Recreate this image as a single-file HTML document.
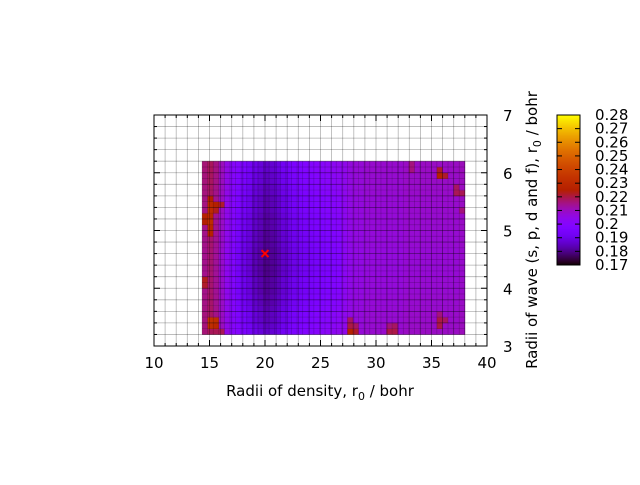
<!DOCTYPE html>
<html><head><meta charset="utf-8"><style>
body{margin:0;background:#fff}
svg text{font-family:"DejaVu Sans","Liberation Sans",sans-serif;font-size:15px;fill:#000}
</style></head><body>
<svg id="c" width="640" height="480" viewBox="0 0 640 480" xmlns="http://www.w3.org/2000/svg">
<g id="cells"></g>
<g id="grid"></g>
<g id="axes"></g>
<g id="cbar"></g>
<text x="320" y="396" text-anchor="middle">Radii of density, r<tspan font-size="11" dy="4">0</tspan><tspan dy="-4"> / bohr</tspan></text>
<text transform="translate(537,230) rotate(-90)" text-anchor="middle">Radii of wave (s, p, d and f), r<tspan font-size="11" dy="4">0</tspan><tspan dy="-4"> / bohr</tspan></text>
</svg>
<script>
// data
const colProfile=[0.216,0.218,0.215,0.210,0.205,0.200,0.197,0.194,0.191,0.188,0.186,0.184,0.185,0.187,0.190,0.192,0.194,0.195,0.196,0.197,0.198,0.199,0.200,0.201,0.202,0.204,0.206,0.207,0.207,0.208,0.208,0.208,0.208,0.208,0.208,0.208,0.209,0.209,0.209,0.209,0.209,0.209,0.209,0.209,0.209,0.209,0.210];
const rowAdj=[0.002,0.001,0,0,-0.001,-0.002,-0.002,-0.003,-0.003,-0.003,-0.004,-0.004,-0.004,-0.004,-0.004,-0.003,-0.003,-0.003,-0.002,-0.002,-0.002,-0.001,-0.001,-0.001,0,0,0.001,0.001,0.002,0.002];
// hotspots: [col,row,value]
const hotspots=[[1,17,0.226],[1,18,0.229],[1,19,0.232],[1,20,0.229],[1,21,0.231],[1,22,0.229],[2,22,0.225],[3,22,0.222],[2,21,0.223],[1,23,0.225],[0,20,0.226],[0,19,0.225],
[0,8,0.222],[0,9,0.223],[1,2,0.234],[2,2,0.232],[1,1,0.232],[2,1,0.229],[3,0,0.219],[2,0,0.219],
[37,28,0.216],[37,29,0.216],[42,27,0.226],[42,28,0.222],[43,27,0.222],[45,24,0.219],[46,24,0.219],[45,25,0.218],[46,21,0.216],
[26,0,0.226],[26,1,0.22],[26,2,0.218],[27,0,0.222],[27,1,0.218],[33,0,0.22],[34,0,0.22],[33,1,0.216],[34,1,0.218],[42,1,0.22],[42,2,0.22],[43,2,0.218],[42,3,0.216]];
const xTicks=[10,15,20,25,30,35,40];
const yTicks=[3,4,5,6,7];
const cbTicks=[0.17,0.18,0.19,0.2,0.21,0.22,0.23,0.24,0.25,0.26,0.27,0.28];
const marker=[20,4.6];
const xEdges=[14.33,38.0], yEdges=[3.2,6.2], nRows=30;

const NS="http://www.w3.org/2000/svg";
const X=v=>154+(v-10)*333/30, Y=v=>346-(v-3)*231/4;
const cmin=0.17,cmax=0.28;
function col(v){let t=Math.max(0,Math.min(1,(v-cmin)/(cmax-cmin)));
 const r=Math.sqrt(t),g=t*t*t,b=Math.max(0,Math.sin(2*Math.PI*t));
 return `rgb(${Math.round(r*255)},${Math.round(g*255)},${Math.round(b*255)})`;}
function mk(tag,at,par){const e=document.createElementNS(NS,tag);for(const k in at)e.setAttribute(k,at[k]);par.appendChild(e);return e;}
const cells=document.getElementById('cells');
const nCols=colProfile.length;
const dx=(xEdges[1]-xEdges[0])/nCols, dy=(yEdges[1]-yEdges[0])/nRows;
const vals=[];
for(let r=0;r<nRows;r++){vals.push([]);for(let c=0;c<nCols;c++){let a=(c>=6&&c<=24)?rowAdj[r]:rowAdj[r]*0.3;vals[r].push(colProfile[c]+a);}}
hotspots.forEach(h=>{vals[h[1]][h[0]]=h[2];});
for(let r=0;r<nRows;r++)for(let c=0;c<nCols;c++){
 const x0=X(xEdges[0]+c*dx),x1=X(xEdges[0]+(c+1)*dx),y1=Y(yEdges[0]+r*dy),y0=Y(yEdges[0]+(r+1)*dy);
 const e=mk('rect',{x:x0,y:y0,width:x1-x0+0.3,height:y1-y0+0.3,fill:col(vals[r][c])},cells);
 
 
}
for(let c=0;c<=nCols;c++){const x=X(xEdges[0]+c*dx);mk('line',{x1:x,x2:x,y1:Y(yEdges[0]),y2:Y(yEdges[1]),stroke:'rgba(0,0,0,0.22)','stroke-width':0.7},cells);}
for(let r=0;r<=nRows;r++){const y=Y(yEdges[0]+r*dy);mk('line',{x1:X(xEdges[0]),x2:X(xEdges[1]),y1:y,y2:y,stroke:'rgba(0,0,0,0.22)','stroke-width':0.7},cells);}
const grid=document.getElementById('grid');
for(let v=10;v<=40;v++){const x=X(v);mk('line',{x1:x,x2:x,y1:115,y2:346,stroke:'rgba(0,0,0,0.3)','stroke-width':0.8},grid);}
for(let i=0;i<=20;i++){const y=Y(3+i*0.2);mk('line',{x1:154,x2:487,y1:y,y2:y,stroke:'rgba(0,0,0,0.3)','stroke-width':0.8},grid);}
const axes=document.getElementById('axes');
mk('rect',{x:154,y:115,width:333,height:231,fill:'none',stroke:'#000','stroke-width':1},axes);
for(let v=10;v<=40;v++){const x=X(v),L=(v%5==0)?6:3;mk('line',{x1:x,x2:x,y1:346,y2:346-L,stroke:'#000'},axes);mk('line',{x1:x,x2:x,y1:115,y2:115+L,stroke:'#000'},axes);}
for(let i=0;i<=20;i++){const y=Y(3+i*0.2),L=(i%5==0)?6:3;mk('line',{x1:154,x2:154+L,y1:y,y2:y,stroke:'#000'},axes);mk('line',{x1:487,x2:487-L,y1:y,y2:y,stroke:'#000'},axes);}
xTicks.forEach(v=>{const t=mk('text',{x:X(v),y:368,'text-anchor':'middle'},axes);t.textContent=v;});
yTicks.forEach(v=>{const t=mk('text',{x:503,y:Y(v)+6,'text-anchor':'start'},axes);t.textContent=v;});
const mx=X(marker[0]),my=Y(marker[1]);
const m=mk('path',{d:`M${mx-3.5} ${my-3.5}L${mx+3.5} ${my+3.5}M${mx-3.5} ${my+3.5}L${mx+3.5} ${my-3.5}`,stroke:'#ff0000','stroke-width':2},axes);


const cb=document.getElementById('cbar');
const CY=v=>265-(v-cmin)/(cmax-cmin)*150;
for(let i=0;i<150;i++){const v=cmin+(i+0.5)/150*(cmax-cmin);mk('rect',{x:557,y:265-i-1,width:23,height:1.2,fill:col(v)},cb);}
mk('rect',{x:557,y:115,width:23,height:150,fill:'none',stroke:'#000'},cb);
cbTicks.forEach(v=>{const y=CY(v);mk('line',{x1:557,x2:562,y1:y,y2:y,stroke:'#000'},cb);mk('line',{x1:575,x2:580,y1:y,y2:y,stroke:'#000'},cb);
 const t=mk('text',{x:595,y:y+5},cb);t.textContent=String(v);});
</script>
</body></html>
